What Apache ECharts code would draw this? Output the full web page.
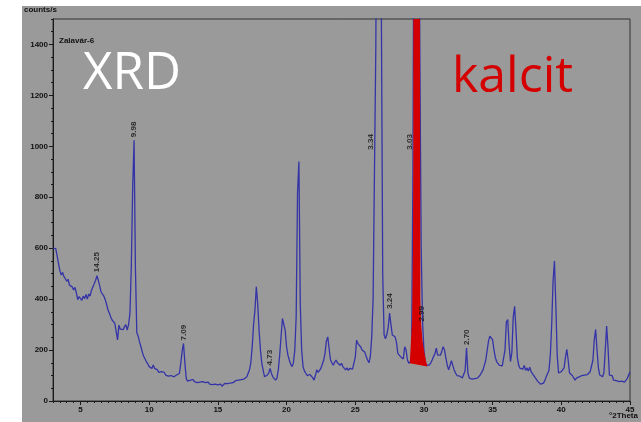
<!DOCTYPE html>
<html><head><meta charset="utf-8">
<script src="https://cdn.jsdelivr.net/npm/echarts@6/dist/echarts.min.js"></script>
<style>html,body{margin:0;padding:0;background:#fff}#c{width:641px;height:422px}</style>
</head><body><div id="c"></div><script>
// Scan: 2Theta from 3.0 to 45.0 in steps of 0.1 degree (one row per degree)
const scanStart = 3.0;
const scanStep = 0.1;
const counts = [
  600,602,598,570,540,512,495,505,488,480,   // 3.x
  470,478,455,462,448,436,446,425,398,410,   // 4.x
  408,395,412,402,418,400,420,412,435,442,   // 5.x
  460,474,492,474,452,428,430,412,398,380,   // 6.x
  358,345,330,318,320,305,300,240,298,282,   // 7.x
  288,280,292,300,278,300,344,527,840,1024,  // 8.x
  520,268,255,232,213,192,176,165,154,146,   // 9.x
  135,142,128,141,128,122,122,112,118,115,   // 10.x
  108,112,102,106,98,95,100,94,95,98,        // 11.x
  102,96,108,148,195,226,150,88,78,84,       // 12.x
  82,80,84,76,78,72,69,74,80,76,             // 13.x
  76,72,70,74,66,69,64,70,66,62,             // 14.x
  63,60,66,58,64,69,62,68,72,70,             // 15.x
  76,72,78,80,76,82,80,84,88,86,             // 16.x
  90,94,100,122,150,213,300,357,448,383,     // 17.x
  278,200,148,120,95,100,102,110,128,108,    // 18.x
  95,88,82,90,122,180,252,324,324,278,       // 19.x
  213,180,161,145,135,150,200,330,820,940,   // 20.x
  380,200,135,118,109,100,95,104,109,92,     // 21.x
  82,100,122,112,109,128,135,160,187,235,    // 22.x
  252,205,161,150,141,152,161,150,148,140,   // 23.x
  148,135,128,122,130,120,128,135,125,148,   // 24.x
  170,239,225,230,212,200,195,191,175,161,   // 25.x
  150,175,252,400,900,1400,2500,3000,2500,1550, // 26.x
  500,260,244,262,290,345,300,259,252,252,   // 27.x
  230,187,190,174,178,165,213,200,161,148,   // 28.x
  148,160,900,2500,3500,3500,2500,1400,600,310, // 29.x
  200,150,140,135,142,150,161,175,185,208,   // 30.x
  180,186,180,195,213,200,168,140,122,140,   // 31.x
  158,140,122,110,100,95,98,92,90,95,        // 32.x
  120,208,110,90,92,86,82,88,85,90,          // 33.x
  95,102,108,122,141,160,198,235,255,260,    // 34.x
  240,200,170,154,148,140,135,138,142,200,   // 35.x
  310,320,220,155,190,330,372,280,170,140,   // 36.x
  128,132,125,140,120,130,118,133,115,120,   // 37.x
  100,92,85,76,70,66,63,70,80,95,            // 38.x
  100,120,180,300,470,550,380,180,110,112,   // 39.x
  115,118,130,170,203,160,110,108,100,95,    // 40.x
  82,90,86,95,92,100,95,102,98,104,          // 41.x
  110,115,121,160,240,281,200,130,102,98,    // 42.x
  95,110,200,294,210,102,98,100,82,86,       // 43.x
  80,78,76,82,78,76,74,80,88,102,            // 44.x
  115                                        // 45.0
];
const xTickLabels = [5, 10, 15, 20, 25, 30, 35, 40, 45];
const yTickLabels = [0, 200, 400, 600, 800, 1000, 1200, 1400];
// d-spacing labels: [2Theta, counts anchor, text]
const peakLabels = [
  [6.2, 494, '14.25'], [8.9, 1024, '9.98'], [12.5, 226, '7.09'],
  [18.8, 128, '4.73'], [26.1, 975, '3.34'], [28.95, 975, '3.03'],
  [27.55, 350, '3.24'], [29.87, 300, '2.99'], [33.12, 208, '2.70']
];
// calcite highlight outline (2Theta, counts)
const calciteMarker = [
  [29.23, 1500], [29.71, 1500], [29.74, 400], [29.8, 300], [29.9, 235],
  [30.05, 185], [30.24, 135], [28.97, 148], [29.14, 318], [29.2, 600], [29.23, 1000]
];

const xMin = 3, xMax = 45, yMin = 0, yMax = 1500;
const xMinorTicks = []; for (let v = xMin; v <= xMax + 1e-9; v += 0.5) xMinorTicks.push(+v.toFixed(1));
const yMinorTicks = []; for (let v = yMin; v <= yMax; v += 50) yMinorTicks.push(v);

const lineData = counts.map((c, i) => [+(scanStart + i * scanStep).toFixed(1), c]);
const axisColor = '#1a1a1a';
const lblFont = {color: '#111', fontSize: 8, fontWeight: 'bold', fontFamily: 'Liberation Sans'};

const chart = echarts.init(document.getElementById('c'), null, {renderer: 'canvas'});
chart.setOption({
  animation: false,
  backgroundColor: '#ffffff',
  grid: {left: 53, top: 19, right: 11, bottom: 21, show: true, borderColor: '#333', borderWidth: 1, backgroundColor: 'transparent'},
  xAxis: [
    {type: 'value', min: xMin, max: xMax, position: 'bottom',
     axisLine: {show: true, lineStyle: {color: axisColor, width: 1}},
     axisTick: {show: true, customValues: xMinorTicks, length: 2, lineStyle: {color: axisColor}},
     axisLabel: {show: false}, splitLine: {show: false}},
    {type: 'value', min: xMin, max: xMax, position: 'bottom',
     axisLine: {show: false},
     axisTick: {show: true, customValues: xTickLabels, length: 4, lineStyle: {color: axisColor}},
     axisLabel: Object.assign({show: true, customValues: xTickLabels, margin: 5,
       formatter: v => (xTickLabels.indexOf(v) >= 0 ? String(v) : '')}, lblFont),
     splitLine: {show: false}}
  ],
  yAxis: [
    {type: 'value', min: yMin, max: yMax, position: 'left',
     axisLine: {show: true, lineStyle: {color: axisColor, width: 1}},
     axisTick: {show: true, customValues: yMinorTicks, length: 2, lineStyle: {color: axisColor}},
     axisLabel: {show: false}, splitLine: {show: false}},
    {type: 'value', min: yMin, max: yMax, position: 'left',
     axisLine: {show: false},
     axisTick: {show: true, customValues: yTickLabels, length: 4, lineStyle: {color: axisColor}},
     axisLabel: Object.assign({show: true, customValues: yTickLabels, margin: 5,
       formatter: v => (yTickLabels.indexOf(v) >= 0 ? String(v) : '')}, lblFont),
     splitLine: {show: false}}
  ],
  graphic: [
    {type: 'rect', z: -10, silent: true, shape: {x: 22, y: 6, width: 619, height: 416}, style: {fill: '#9a9a9a'}},
    {type: 'text', z: 100, left: 24, top: 6, style: {text: 'counts/s', fill: '#111', font: 'bold 8px "Liberation Sans"'}},
    {type: 'text', z: 100, left: 59, top: 37, style: {text: 'Zalavár-6', fill: '#111', font: 'bold 8px "Liberation Sans"'}},
    {type: 'text', z: 100, left: 609, top: 412, style: {text: '°2Theta', fill: '#111', font: 'bold 8px "Liberation Sans"'}},
    {type: 'text', z: 100, left: 83, top: 49, style: {text: 'XRD', fill: '#ffffff', font: '51px "Open Sans"'}},
    {type: 'text', z: 100, left: 452, top: 53, style: {text: 'kalcit', fill: '#d40000', font: '50px "Open Sans"'}}
  ],
  series: [
    {type: 'line', xAxisIndex: 0, yAxisIndex: 0, data: lineData, showSymbol: false, symbol: 'none',
     clip: true, lineStyle: {color: '#3434a8', width: 1.3}, z: 3, silent: true},
    {type: 'custom', xAxisIndex: 0, yAxisIndex: 0, data: [[29.4, 0]], z: 5, silent: true, clip: true,
     renderItem: function (params, api) {
       return {type: 'polygon', shape: {points: calciteMarker.map(p => api.coord(p))}, style: {fill: '#d40000'}};
     }},
    {type: 'scatter', xAxisIndex: 0, yAxisIndex: 0, symbolSize: 0, z: 6, silent: true,
     data: peakLabels.map(p => ({value: [p[0], p[1]], label: {formatter: p[2]}})),
     label: Object.assign({show: true, position: 'top', distance: 3, rotate: 90, align: 'left', verticalAlign: 'middle'}, lblFont)}
  ]
});
</script></body></html>
